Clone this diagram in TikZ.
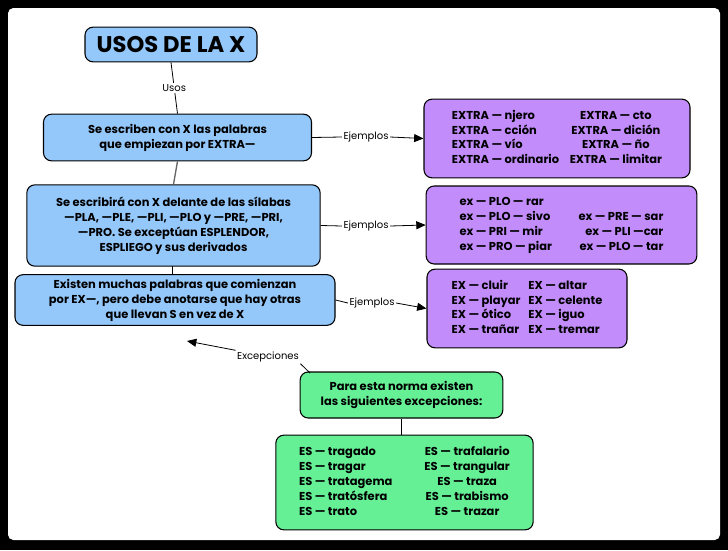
\documentclass[tikz,border=0pt]{standalone}
\usepackage{fontspec}
\setmainfont{Poppins}
\usetikzlibrary{arrows.meta}
\definecolor{cblue}{RGB}{149,200,250}
\definecolor{cpurp}{RGB}{194,140,250}
\definecolor{cgreen}{RGB}{102,240,150}
\tikzset{
 box/.style={draw=black, line width=0.8pt, rounded corners=6pt, inner sep=0pt, align=center, font=\fontsize{8.6}{11.2}\selectfont\bfseries},
 lbl/.style={font=\fontsize{7.5}{9}\selectfont, inner sep=1pt, fill=white},
 ln/.style={line width=0.6pt},
 arr/.style={line width=0.6pt, -{Triangle[length=7pt,width=6pt]}}
}
\begin{document}
\begin{tikzpicture}[x=0.75pt,y=-0.75pt]
\fill[black] (0,0) rectangle (728,550);
\fill[white, rounded corners=4pt] (8,8) rectangle (720,540);
\useasboundingbox (0,0) rectangle (728,550);
% title
\node[box, fill=cblue, minimum width=129pt, minimum height=26pt, font=\fontsize{17}{20}\selectfont\bfseries] (t) at (171,44.5) {USOS DE LA X};
\node[box, fill=cblue, minimum width=201pt, minimum height=35pt] (b1) at (177.5,137.5) {Se escriben con X las palabras\\que empiezan por EXTRA—};
\node[box, fill=cblue, minimum width=220pt, minimum height=61pt] (b2) at (173.5,225.5) {Se escribirá con X delante de las sílabas\\—PLA, —PLE, —PLI, —PLO y —PRE, —PRI,\\—PRO. Se exceptúan ESPLENDOR,\\ESPLIEGO y sus derivados};
\node[box, fill=cblue, minimum width=240pt, minimum height=38pt] (b3) at (175,300) {Existen muchas palabras que comienzan\\por EX—, pero debe anotarse que hay otras\\que llevan S en vez de X};
\node[box, fill=cpurp, minimum width=199.5pt, minimum height=59pt, align=left] (p1) at (557,138.5) {\begin{tabular}{@{\hspace{5pt}}l@{\hspace{8pt}}c@{\hspace{5pt}}}EXTRA — njero & EXTRA — cto\\EXTRA — cción & EXTRA — dición\\EXTRA — vío & EXTRA — ño\\EXTRA — ordinario & EXTRA — limitar\end{tabular}};
\node[box, fill=cpurp, minimum width=203pt, minimum height=58.5pt, align=left] (p2) at (561.5,225) {\begin{tabular}{@{\hspace{5pt}}l@{\hspace{20pt}}r@{\hspace{5pt}}}ex — PLO — rar & \\ex — PLO — sivo & ex — PRE — sar\\ex — PRI — mir & ex — PLI —car\\ex — PRO — piar & ex — PLO — tar\end{tabular}};
\node[box, fill=cpurp, minimum width=150pt, minimum height=59pt, align=left] (p3) at (527,308.5) {\begin{tabular}{@{\hspace{4pt}}l@{\hspace{6pt}}l@{\hspace{4pt}}}EX — cluir & EX — altar\\EX — playar & EX — celente\\EX — ótico & EX — iguo\\EX — trañar & EX — tremar\end{tabular}};
\node[box, fill=cgreen, minimum width=152pt, minimum height=34.5pt] (g1) at (401.5,395) {Para esta norma existen\\las siguientes excepciones:};
\node[box, fill=cgreen, minimum width=193pt, minimum height=71pt, align=left] (g2) at (404.5,482.5) {\begin{tabular}{@{\hspace{3pt}}l@{\hspace{24pt}}c@{\hspace{3pt}}}ES — tragado & ES — trafalario\\ES — tragar & ES — trangular\\ES — tratagema & ES — traza\\ES — tratósfera & ES — trabismo\\ES — trato & ES — trazar\end{tabular}};
% connectors
\draw[ln] (t.south) -- node[lbl] {Usos} (b1.north);
\draw[ln, gray!80!black, line width=1pt] (b1.south) -- (b2.north);
\draw[ln] (172,266) -- (172,275);
\node[lbl] (e1) at (366,137) {Ejemplos};
\node[lbl] (e2) at (366,226) {Ejemplos};
\node[lbl] (e3) at (372,303) {Ejemplos};
\draw[ln] (b1.east) -- (e1.west); \draw[arr] (e1.east) -- (p1.west);
\draw[ln] (b2.east) -- (e2.west); \draw[arr] (e2.east) -- (p2.west);
\draw[ln] (b3.east) -- (e3.west); \draw[arr] (e3.east) -- (p3.west);
\node[lbl] (ex) at (268,357) {Excepciones};
\coordinate (gc) at (310,373);
\coordinate (tip) at (187,341);
\draw[ln] (gc) -- (ex.south east);
\draw[arr] (ex.north west) -- (tip);
\draw[ln] (g1.south) -- (g1.south |- g2.north);
\end{tikzpicture}
\end{document}
